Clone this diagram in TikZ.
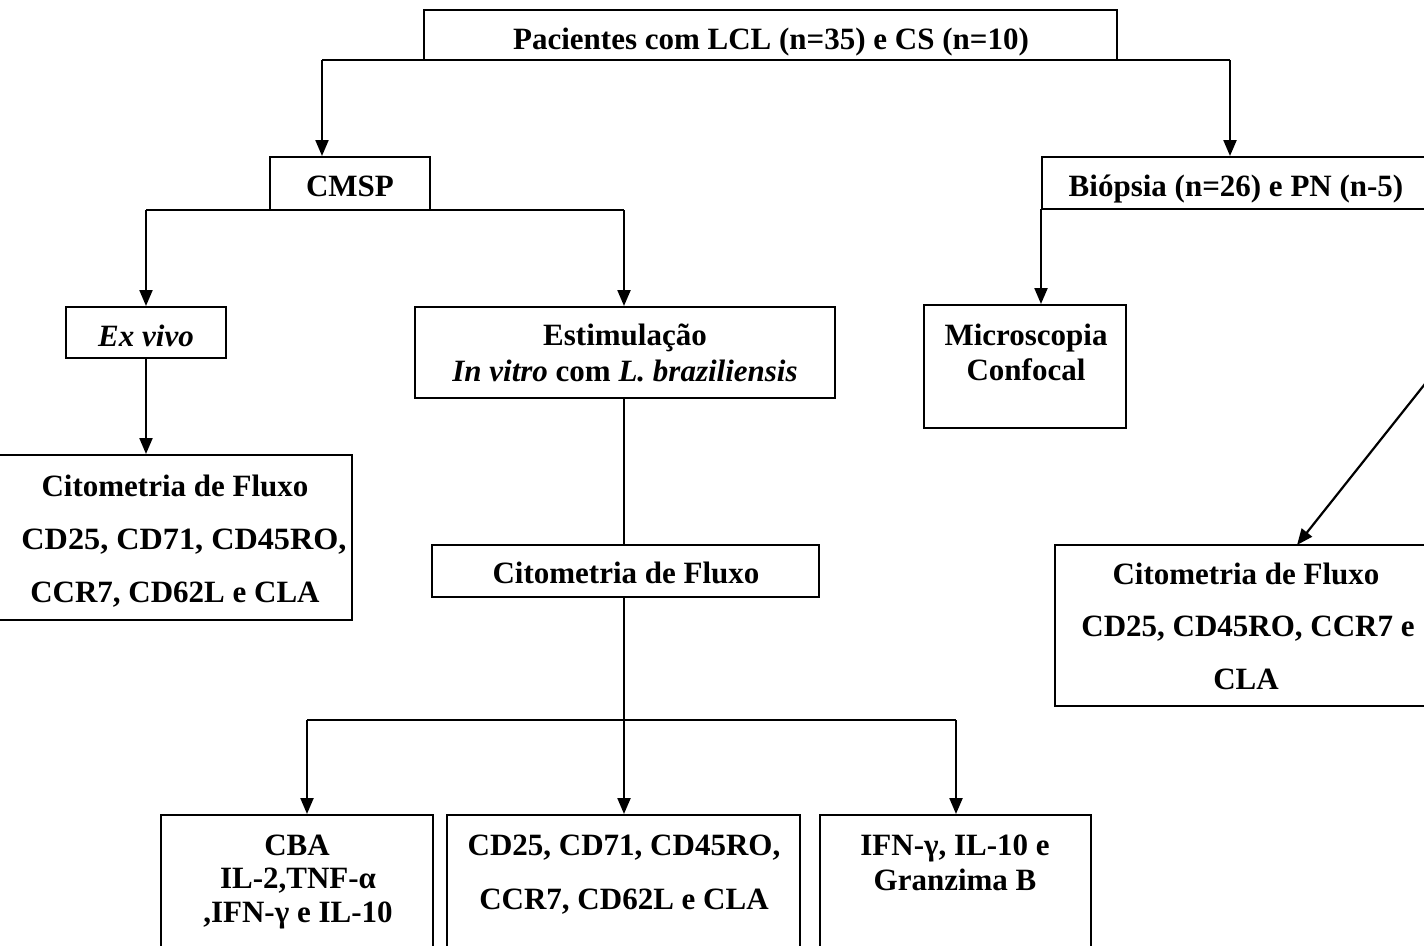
\documentclass[tikz,border=0pt]{standalone}
\usepackage{fontspec}
\setmainfont{Liberation Serif}
\usetikzlibrary{arrows.meta}
\begin{document}
\begin{tikzpicture}[x=1pt,y=-1pt,
  box/.style={draw, line width=2pt, rectangle, inner sep=0pt},
  txt/.style={font=\fontsize{31}{36}\selectfont\bfseries, inner sep=0pt, anchor=base},
  arr/.style={line width=2.2pt, -{Triangle[length=16pt,width=13pt]}},
  ln/.style={line width=2.2pt}]
\useasboundingbox (0,0) rectangle (1424,945);
\clip (0,0) rectangle (1424,945);
% boxes
\node[box, minimum width=693pt, minimum height=50pt] (top) at (770.5,35) {};
\node[box, minimum width=160pt, minimum height=53pt] (cmsp) at (350,183.5) {};
\node[box, minimum width=388pt, minimum height=52pt] (bio) at (1236,183) {};
\node[box, minimum width=160pt, minimum height=51pt] (exv) at (146,332.5) {};
\node[box, minimum width=420pt, minimum height=91pt] (est) at (625,352.5) {};
\node[box, minimum width=202pt, minimum height=123pt] (mic) at (1025,366.5) {};
\node[box, minimum width=354pt, minimum height=165pt] (cfl) at (175,537.5) {};
\node[box, minimum width=387pt, minimum height=52pt] (cfm) at (625.5,571) {};
\node[box, minimum width=382pt, minimum height=161pt] (cfr) at (1246,625.5) {};
\node[box, minimum width=272pt, minimum height=140pt] (b1) at (297,885) {};
\node[box, minimum width=353pt, minimum height=140pt] (b2) at (623.5,885) {};
\node[box, minimum width=271pt, minimum height=140pt] (b3) at (955.5,885) {};
% texts
\node[txt] (ttop) at (771,49) {Pacientes com LCL (n=35) e CS (n=10)};
\node[txt] (tcmsp) at (350,196) {CMSP};
\node[txt] (tbio) at (1236,196) {Biópsia (n=26) e PN (n-5)};
\node[txt] (texv) at (146,346) {\textit{Ex vivo}};
\node[txt] (test1) at (625,345) {Estimulação};
\node[txt] (test2) at (625,381) {\textit{In vitro} com \textit{L. braziliensis}};
\node[txt] (tmic1) at (1026,345) {Microscopia};
\node[txt] (tmic2) at (1026,380) {Confocal};
\node[txt] (tcfl1) at (175,496) {Citometria de Fluxo};
\node[txt, xscale=1.04] (tcfl2) at (184,549) {CD25, CD71, CD45RO,};
\node[txt] (tcfl3) at (175,602) {CCR7, CD62L e CLA};
\node[txt] (tcfm) at (626,583) {Citometria de Fluxo};
\node[txt] (tcfr1) at (1246,584) {Citometria de Fluxo};
\node[txt] (tcfr2) at (1248,636) {CD25, CD45RO, CCR7 e};
\node[txt] (tcfr3) at (1246,689) {CLA};
\node[txt] (tb11) at (297,855) {CBA};
\node[txt] (tb12) at (298,888) {IL-2,TNF-α};
\node[txt] (tb13) at (298,922) {,IFN-γ e IL-10};
\node[txt] (tb21) at (624,855) {CD25, CD71, CD45RO,};
\node[txt] (tb22) at (624,909) {CCR7, CD62L e CLA};
\node[txt] (tb31) at (955,855) {IFN-γ, IL-10 e};
\node[txt] (tb32) at (955,890) {Granzima B};
% connectors
\coordinate (j1) at (322,60);
\coordinate (j2) at (1230,60);
\draw[ln] (j1) -- (j2);
\draw[arr] (j1) -- (j1 |- cmsp.north);
\draw[arr] (j2) -- (j2 |- bio.north);
\coordinate (k1) at (146,210);
\coordinate (k2) at (624,210);
\draw[ln] (k1) -- (k2);
\draw[arr] (k1) -- (exv.north);
\draw[arr] (k2) -- (k2 |- est.north);
\draw[arr] (exv.south) -- (exv.south |- cfl.north);
\draw[ln] (k2 |- est.south) -- (k2 |- cfm.north);
\coordinate (m0) at (624,720);
\coordinate (m1) at (307,720);
\coordinate (m3) at (956,720);
\draw[ln] (k2 |- cfm.south) -- (m0);
\draw[ln] (m1) -- (m3);
\draw[arr] (m1) -- (m1 |- b1.north);
\draw[arr] (m0) -- (m0 |- b2.north);
\draw[arr] (m3) -- (m3 |- b3.north);
\coordinate (n1) at (1041,209);
\draw[arr] (n1) -- (n1 |- mic.north);
\coordinate (d0) at (1436,370);
\coordinate (d1) at (1297,545);
\draw[arr] (d0) -- (d1);
\end{tikzpicture}
\end{document}
